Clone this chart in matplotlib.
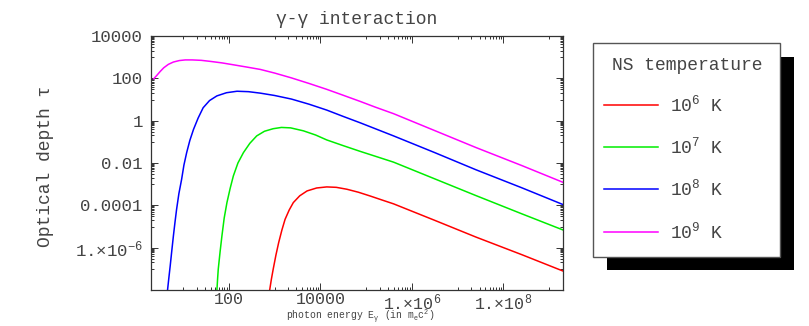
import numpy as np
import matplotlib
matplotlib.use("Agg")
import matplotlib.pyplot as plt
from matplotlib.patches import Rectangle
from matplotlib.lines import Line2D
from matplotlib.ticker import NullFormatter

plt.rcParams['font.family'] = ['Liberation Mono', 'DejaVu Sans']
plt.rcParams['mathtext.fontset'] = 'custom'
plt.rcParams['mathtext.rm'] = 'Liberation Mono'
plt.rcParams['mathtext.it'] = 'Liberation Mono'
plt.rcParams['mathtext.bf'] = 'Liberation Mono'

# values, as log10(E) and log10(tau)
logE_1e6 = [2.89, 2.93, 2.97, 3.03, 3.09, 3.16, 3.23, 3.32, 3.41, 3.55, 3.71, 3.92, 4.14,
            4.35, 4.58, 4.83, 5.09, 5.35, 5.60, 6.50, 7.40, 8.40, 9.32]
logtau_1e6 = [-8.05, -7.50, -7.02, -6.35, -5.76, -5.17, -4.66, -4.22, -3.87, -3.55, -3.32, -3.18, -3.13,
              -3.15, -3.24, -3.38, -3.56, -3.75, -3.93, -4.71, -5.50, -6.33, -7.12]

logE_1e7 = [1.74, 1.755, 1.77, 1.81, 1.85, 1.90, 1.96, 2.03, 2.10, 2.20, 2.32, 2.46, 2.61,
            2.78, 2.97, 3.15, 3.35, 3.63, 3.90, 4.14, 4.50, 4.87, 5.20, 5.60, 6.50, 7.40, 8.40, 9.32]
logtau_1e7 = [-8.05, -7.50, -7.02, -6.20, -5.45, -4.60, -3.87, -3.20, -2.61, -2.00, -1.51, -1.07, -0.72,
              -0.50, -0.38, -0.32, -0.34, -0.48, -0.68, -0.91, -1.18, -1.45, -1.68, -1.96, -2.75, -3.54, -4.40, -5.18]

logE_1e8 = [0.66, 0.69, 0.72, 0.755, 0.79, 0.825, 0.86, 0.91, 0.97, 1.02, 1.08, 1.15, 1.23,
            1.33, 1.44, 1.58, 1.74, 1.95, 2.18, 2.43, 2.69, 3.00, 3.37, 3.75, 4.14, 4.50, 4.87,
            5.20, 5.60, 6.50, 7.40, 8.40, 9.32]
logtau_1e8 = [-8.05, -7.45, -6.87, -6.15, -5.45, -4.80, -4.19, -3.45, -2.77, -2.10, -1.51, -0.93, -0.41,
              0.12, 0.61, 0.95, 1.17, 1.32, 1.39, 1.37, 1.30, 1.19, 1.02, 0.78, 0.50, 0.20, -0.10,
              -0.38, -0.72, -1.51, -2.32, -3.17, -3.98]

logE_1e9 = [0.36, 0.42, 0.50, 0.58, 0.68, 0.79, 0.92, 1.05, 1.20, 1.40, 1.60, 1.85, 2.10,
            2.40, 2.69, 3.00, 3.37, 3.75, 4.14, 4.50, 4.87, 5.20, 5.60, 6.50, 7.40, 8.40, 9.32]
logtau_1e9 = [1.98, 2.12, 2.32, 2.50, 2.66, 2.77, 2.84, 2.87, 2.87, 2.85, 2.80, 2.73, 2.64,
              2.53, 2.42, 2.25, 2.02, 1.76, 1.48, 1.20, 0.91, 0.64, 0.33, -0.47, -1.27, -2.12, -2.93]

series = [
    (logE_1e6, logtau_1e6, '#ff0000', '6'),
    (logE_1e7, logtau_1e7, '#00ee00', '7'),
    (logE_1e8, logtau_1e8, '#0000ff', '8'),
    (logE_1e9, logtau_1e9, '#ff00ff', '9'),
]

xticks = [1e2, 1e4, 1e6, 1e8]
xlabels = ['100', '10000', r'1.$\times$10$^{6}$', r'1.$\times$10$^{8}$']
yticks = [1e4, 1e2, 1, 1e-2, 1e-4, 1e-6]
ylabels = ['10000', '100', '1', '0.01', '0.0001', r'1.$\times$10$^{-6}$']

W, H = 809, 326
txt = '#444444'

fig = plt.figure(figsize=(W / 100, H / 100), dpi=100)
ax = fig.add_axes([151 / W, 1 - 290 / H, (563 - 151) / W, (290 - 36) / H])

for lx, ly, c, _ in series:
    ax.plot(10 ** np.array(lx), 10 ** np.array(ly), color=c, lw=1.1)

ax.set_xscale('log')
ax.set_yscale('log')
ax.set_xlim(2, 2e9)
ax.set_ylim(1e-8, 1e4)

ax.set_xticks(xticks, xlabels)
ax.set_yticks(yticks, ylabels)
xminor = [k * 10.0 ** (m - 1) for m in range(0, 12, 2) for k in range(1, 10)]
yminor = [k * 10.0 ** (m - 1) for m in range(-8, 6, 2) for k in range(1, 10)]
ax.set_xticks([v for v in xminor if 2 <= v <= 2e9 and v not in xticks], minor=True)
ax.set_yticks([v for v in yminor if 1e-8 <= v <= 1e4 and v not in yticks], minor=True)
ax.xaxis.set_minor_formatter(NullFormatter())
ax.yaxis.set_minor_formatter(NullFormatter())
ax.tick_params(which='both', direction='in', top=True, right=True, colors='#333333',
               labelcolor=txt, labelsize=12.5, width=0.7)
ax.tick_params(which='major', length=5)
ax.tick_params(which='minor', length=2.5)
ax.tick_params(axis='x', pad=1.5, labelsize=12)
ax.tick_params(axis='y', pad=6)
for s in ax.spines.values():
    s.set_color('#333333')
    s.set_linewidth(0.9)

fig.text(357 / W, 1 - 20 / H, 'γ-γ interaction', ha='center', va='center', fontsize=13, color=txt)
fig.text(46 / W, 1 - 166 / H, 'Optical depth τ', ha='center', va='center', rotation=90,
         fontsize=13, color=txt)
fig.text(360 / W, 0.8 / H, r'photon energy E$_{γ}$ (in m$_{e}$c$^{2}$)', ha='center',
         va='bottom', fontsize=7, color=txt)

# legend box with black drop shadow
def fx(px):
    return px / W

def fy(py):
    return 1 - py / H

fig.patches.append(Rectangle((fx(607), fy(270)), fx(794) - fx(607), fy(57) - fy(270),
                             transform=fig.transFigure, facecolor='black', edgecolor='none'))
fig.patches.append(Rectangle((fx(593), fy(257)), fx(780) - fx(593), fy(43) - fy(257),
                             transform=fig.transFigure, facecolor='white', edgecolor='#555555',
                             linewidth=1.0))
fig.text(fx(687), fy(65), 'NS temperature', ha='center', va='center', fontsize=13, color=txt)
for (lx, ly, c, p), yy in zip(series, [105, 147, 189, 232]):
    fig.lines.append(Line2D([fx(604), fx(658)], [fy(yy), fy(yy)], color=c, lw=1.1,
                            transform=fig.transFigure))
    fig.text(fx(670), fy(yy), '10$^{%s}$ K' % p, ha='left', va='center', fontsize=13, color=txt)

fig.savefig('out.png', dpi=100)
